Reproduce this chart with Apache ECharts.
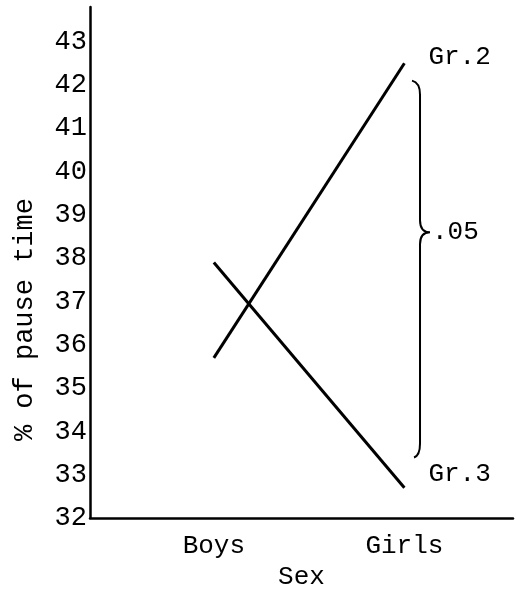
<!DOCTYPE html>
<html>
<head>
<meta charset="utf-8">
<script src="https://cdn.jsdelivr.net/npm/echarts@6/dist/echarts.min.js"></script>
<style>
  html, body { margin: 0; padding: 0; background: #fff; }
  #chart { width: 516px; height: 595px; }
</style>
</head>
<body>
<div id="chart"></div>
<script>
// x positions of the two categories on the value axis
const sexPos = [1, 2]
const sexLabels = ['Boys', 'Girls']

// % of pause time
const gr2Values = [35.7, 42.5]
const gr3Values = [37.9, 32.7]

// brace spanning the two girls' means, with its significance note
const braceX = [2.04]
const braceSpan = [33.4, 42.1]
const braceTip = [38.6]
const braceNote = ['.05']

const FONT = "'Liberation Mono', 'Courier New', monospace"
const INK = '#000'

const chart = echarts.init(document.getElementById('chart'))

const toPoints = (vals) => vals.map((v, i) => [sexPos[i], v])

const lineSeries = (name, vals, offset) => ({
  name: name,
  type: 'line',
  data: toPoints(vals),
  showSymbol: false,
  lineStyle: { color: '#000', width: 3 },
  endLabel: {
    show: true,
    formatter: name,
    fontFamily: FONT,
    fontSize: 26,
    color: INK,
    distance: 0,
    offset: offset
  },
  silent: true
})

// draws a curly brace between two y-values, pointing right at the tip value
const renderBrace = (params, api) => {
  const top = api.coord([api.value(0), api.value(2)])
  const bot = api.coord([api.value(0), api.value(1)])
  const mid = api.coord([api.value(0), api.value(3)])[1]
  const x = top[0]
  const xs = x + 8
  const tip = xs + 10
  const path =
    'M' + x + ' ' + top[1] +
    ' Q' + xs + ' ' + (top[1] + 2) + ' ' + xs + ' ' + (top[1] + 14) +
    ' L' + xs + ' ' + (mid - 12) +
    ' Q' + xs + ' ' + mid + ' ' + tip + ' ' + mid +
    ' Q' + xs + ' ' + mid + ' ' + xs + ' ' + (mid + 12) +
    ' L' + xs + ' ' + (bot[1] - 14) +
    ' Q' + xs + ' ' + (bot[1] - 2) + ' ' + (x + 2) + ' ' + bot[1]
  return {
    type: 'group',
    children: [
      {
        type: 'path',
        shape: { pathData: path },
        style: { fill: 'none', stroke: '#000', lineWidth: 2 }
      },
      {
        type: 'text',
        x: tip + 2,
        y: mid,
        style: {
          text: braceNote[params.dataIndex],
          font: '26px ' + FONT,
          fill: INK,
          verticalAlign: 'middle',
          align: 'left'
        }
      }
    ]
  }
}

const option = {
  backgroundColor: '#fff',
  animation: false,
  grid: { left: 90, right: 3, top: 7, bottom: 76, containLabel: false },
  xAxis: {
    type: 'value',
    min: 0.35,
    max: 2.57,
    name: 'Sex',
    nameLocation: 'middle',
    nameGap: 42,
    nameTextStyle: { fontFamily: FONT, fontSize: 26, color: INK },
    axisLine: { lineStyle: { color: '#000', width: 2.5 } },
    axisTick: { show: false },
    splitLine: { show: false },
    axisLabel: {
      customValues: sexPos,
      formatter: (v) => sexLabels[sexPos.indexOf(v)] || '',
      fontFamily: FONT,
      fontSize: 26,
      color: INK,
      margin: 15
    }
  },
  yAxis: {
    type: 'value',
    min: 32,
    max: 43.8,
    interval: 1,
    name: '% of pause time',
    nameLocation: 'middle',
    nameGap: 52,
    nameRotate: 90,
    nameTextStyle: {
      fontFamily: FONT,
      fontSize: 27,
      color: INK,
      padding: [0, 114, 0, 0]
    },
    axisLine: { show: true, lineStyle: { color: '#000', width: 2.5 } },
    axisTick: { show: false },
    splitLine: { show: false },
    axisLabel: {
      formatter: (v) => (Number.isInteger(v) ? String(v) : ''),
      fontFamily: FONT,
      fontSize: 27,
      color: INK,
      margin: 3
    }
  },
  series: [
    lineSeries('Gr.2', gr2Values, [24, -6]),
    lineSeries('Gr.3', gr3Values, [24, -14]),
    {
      type: 'custom',
      renderItem: renderBrace,
      data: braceX.map((x, i) => [x, braceSpan[0], braceSpan[1], braceTip[i]]),
      silent: true
    }
  ]
}

chart.setOption(option)
</script>
</body>
</html>
